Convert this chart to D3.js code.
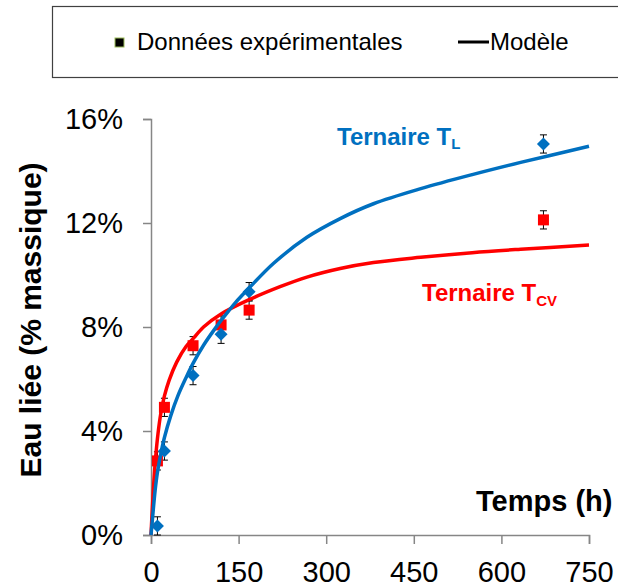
<!DOCTYPE html>
<html>
<head>
<meta charset="utf-8">
<script src="https://cdn.jsdelivr.net/npm/d3@7"></script>
<style>
  body { margin: 0; background: #fff; }
  text { font-family: "Liberation Sans", Arial, sans-serif; }
</style>
</head>
<body>
<div id="chart"></div>
<script>
// sizes
const WIDTH = 618;
const HEIGHT = 587;
const MARGIN = { left: 151, top: 119, right: 29, bottom: 52 };
const INNER_W = WIDTH - MARGIN.left - MARGIN.right;
const INNER_H = HEIGHT - MARGIN.top - MARGIN.bottom;

// experimental data (h, % massique)
const temps = [11, 23, 72, 120, 168, 672];
const ternaireL = [0.35, 3.23, 6.13, 7.72, 9.36, 15.04];
const ternaireCV = [2.85, 4.91, 7.28, 8.08, 8.65, 12.12];
const erreur = [0.35, 0.35, 0.35, 0.35, 0.35, 0.35];

// model curves
const modeleL_t = [0, 3, 7, 11, 17, 23, 34, 46, 60, 72, 90, 110, 120, 133, 145, 168, 210, 267, 324, 381, 462, 550, 633, 750];
const modeleL_v = [0, 0.75, 1.7, 2.4, 3.15, 3.75, 4.6, 5.35, 6.05, 6.6, 7.3, 7.95, 8.25, 8.62, 8.95, 9.5, 10.45, 11.45, 12.17, 12.74, 13.32, 13.86, 14.33, 14.95];
const modeleCV_t = [0, 2, 5, 8, 12, 17, 23, 31, 44, 60, 72, 90, 120, 168, 221, 267, 324, 381, 462, 550, 633, 750];
const modeleCV_v = [0, 0.9, 2.1, 3.0, 3.9, 4.7, 5.35, 5.95, 6.65, 7.25, 7.55, 8.0, 8.5, 9.05, 9.55, 9.92, 10.25, 10.48, 10.68, 10.86, 10.99, 11.15];

// ticks
const xTicks = [0, 150, 300, 450, 600, 750];
const yTicks = [0, 4, 8, 12, 16];

const BLUE = "#0070C0";
const RED = "#FF0000";
const AXIS = "#868686";

const svg = d3.select("#chart")
  .append("svg")
  .attr("width", WIDTH)
  .attr("height", HEIGHT);

// legend box
const legend = svg.append("g");
legend.append("rect")
  .attr("x", 52.5).attr("y", 6.5)
  .attr("width", 640).attr("height", 71)
  .attr("fill", "none")
  .attr("stroke", "#404040")
  .attr("stroke-width", 1.2);
legend.append("rect")
  .attr("x", 115).attr("y", 38)
  .attr("width", 9).attr("height", 9)
  .attr("fill", "#000")
  .attr("stroke", "#9BBB59")
  .attr("stroke-width", 1);
legend.append("text")
  .attr("x", 137).attr("y", 50)
  .attr("font-size", 24)
  .text("Données expérimentales");
legend.append("line")
  .attr("x1", 458).attr("x2", 489)
  .attr("y1", 42).attr("y2", 42)
  .attr("stroke", "#000").attr("stroke-width", 3);
legend.append("text")
  .attr("x", 490).attr("y", 50)
  .attr("font-size", 24)
  .text("Modèle");

const g = svg.append("g")
  .attr("transform", "translate(" + MARGIN.left + "," + MARGIN.top + ")");

const x = d3.scaleLinear().domain([0, 750]).range([0, INNER_W]);
const y = d3.scaleLinear().domain([0, 16]).range([INNER_H, 0]);

// axes
const xAxis = g.append("g")
  .attr("transform", `translate(0,${INNER_H})`)
  .call(d3.axisBottom(x).tickValues(xTicks).tickSize(9).tickPadding(17));
const yAxis = g.append("g")
  .call(d3.axisLeft(y).tickValues(yTicks).tickSize(8).tickPadding(20).tickFormat(d => d + "%"));

[xAxis, yAxis].forEach(a => {
  a.select(".domain").attr("stroke", AXIS).attr("stroke-width", 1.5);
  a.selectAll(".tick line").attr("stroke", AXIS).attr("stroke-width", 1.5);
  a.selectAll(".tick text")
    .attr("fill", "#000")
    .attr("font-size", 29)
    .attr("font-family", "Liberation Sans, Arial, sans-serif");
});
xAxis.selectAll(".tick text").attr("dy", "0.71em");

// model lines
const line = d3.line()
  .x(d => x(d[0]))
  .y(d => y(d[1]))
  .curve(d3.curveCatmullRom.alpha(0.5));

// error bars
function errorBars(vals) {
  const eb = g.append("g").attr("stroke", "#000").attr("stroke-width", 1);
  temps.forEach((t, i) => {
    const cx = x(t);
    const y0 = y(vals[i] - erreur[i]);
    const y1 = y(vals[i] + erreur[i]);
    eb.append("line").attr("x1", cx).attr("x2", cx).attr("y1", y0).attr("y2", y1);
    eb.append("line").attr("x1", cx - 3.5).attr("x2", cx + 3.5).attr("y1", y0).attr("y2", y0);
    eb.append("line").attr("x1", cx - 3.5).attr("x2", cx + 3.5).attr("y1", y1).attr("y2", y1);
  });
}
errorBars(ternaireCV);
errorBars(ternaireL);

// red squares
g.selectAll(".sq")
  .data(temps.map((t, i) => [t, ternaireCV[i]]))
  .join("rect")
  .attr("class", "sq")
  .attr("x", d => x(d[0]) - 5.5)
  .attr("y", d => y(d[1]) - 5.5)
  .attr("width", 11).attr("height", 11)
  .attr("fill", RED);

// blue diamonds
g.selectAll(".dia")
  .data(temps.map((t, i) => [t, ternaireL[i]]))
  .join("path")
  .attr("class", "dia")
  .attr("transform", d => `translate(${x(d[0])},${y(d[1])})`)
  .attr("d", "M0,-6.5L6.5,0L0,6.5L-6.5,0Z")
  .attr("fill", BLUE);

g.append("path")
  .datum(modeleCV_t.map((t, i) => [t, modeleCV_v[i]]))
  .attr("d", line)
  .attr("fill", "none")
  .attr("stroke", RED)
  .attr("stroke-width", 3.5);

g.append("path")
  .datum(modeleL_t.map((t, i) => [t, modeleL_v[i]]))
  .attr("d", line)
  .attr("fill", "none")
  .attr("stroke", BLUE)
  .attr("stroke-width", 3.5);

// series labels
const labL = svg.append("text")
  .attr("x", 337).attr("y", 145)
  .attr("font-size", 24).attr("font-weight", "bold")
  .attr("fill", BLUE)
  .text("Ternaire T");
labL.append("tspan").attr("font-size", 15).attr("dy", 4).text("L");

const labCV = svg.append("text")
  .attr("x", 422).attr("y", 301)
  .attr("font-size", 24).attr("font-weight", "bold")
  .attr("fill", RED)
  .text("Ternaire T");
labCV.append("tspan").attr("font-size", 15).attr("dy", 5).text("CV");

// axis titles
svg.append("text")
  .attr("x", 476).attr("y", 511)
  .attr("font-size", 29).attr("font-weight", "bold")
  .text("Temps (h)");

svg.append("text")
  .attr("transform", "translate(41,320) rotate(-90)")
  .attr("text-anchor", "middle")
  .attr("font-size", 30).attr("font-weight", "bold")
  .text("Eau liée (% massique)");
</script>
</body>
</html>
